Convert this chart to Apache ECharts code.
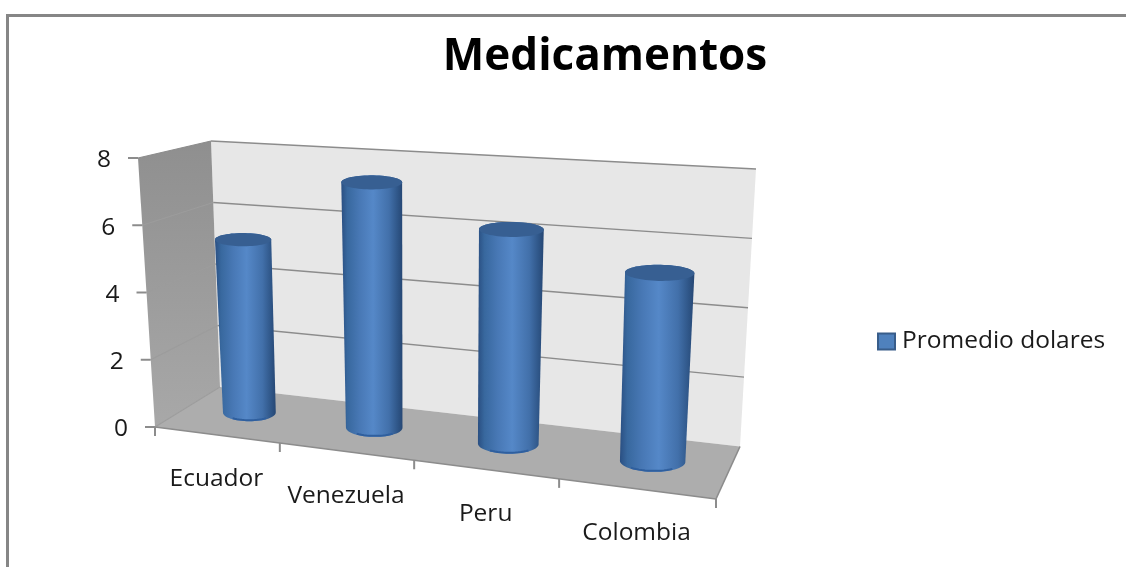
<!DOCTYPE html>
<html>
<head>
<meta charset="utf-8">
<style>html,body{margin:0;padding:0;background:#fff}#chart{width:1126px;height:567px}</style>
<script src="https://cdn.jsdelivr.net/npm/echarts@6/dist/echarts.min.js"></script>
</head>
<body>
<div id="chart"></div>
<script>
// Chart content
const chartTitle = 'Medicamentos';
const seriesName = 'Promedio dolares';
const categories = ['Ecuador', 'Venezuela', 'Peru', 'Colombia'];
const values = [5.3, 7.3, 6.2, 5.3];
const yTicks = [0, 2, 4, 6, 8];

const FONT = '"Open Sans", sans-serif';
const LABEL_SIZE = 24.5;

// Screen geometry of the 3D box: floor corners and the vertical edge vectors at each corner.
const FLOOR = { fl: [155, 427], fr: [716, 499], br: [740, 446.5], bl: [220, 387] };
const RISE = { fl: [-17, -269], fr: [12, -300], br: [16, -277.5], bl: [-9, -246] };

// Unit square (u along categories, d into the depth) to floor quad
function makeFloorMap(q) {
  const dx1 = q.fr[0] - q.br[0], dx2 = q.bl[0] - q.br[0], sx = q.fl[0] - q.fr[0] + q.br[0] - q.bl[0];
  const dy1 = q.fr[1] - q.br[1], dy2 = q.bl[1] - q.br[1], sy = q.fl[1] - q.fr[1] + q.br[1] - q.bl[1];
  const det = dx1 * dy2 - dx2 * dy1;
  const g = (sx * dy2 - dx2 * sy) / det, h = (dx1 * sy - sx * dy1) / det;
  const a = q.fr[0] - q.fl[0] + g * q.fr[0], b = q.bl[0] - q.fl[0] + h * q.bl[0];
  const d = q.fr[1] - q.fl[1] + g * q.fr[1], e = q.bl[1] - q.fl[1] + h * q.bl[1];
  return (u, t) => {
    const w = g * u + h * t + 1;
    return [(a * u + b * t + q.fl[0]) / w, (d * u + e * t + q.fl[1]) / w];
  };
}
const floorMap = makeFloorMap(FLOOR);

// u: 0..1 along the categories, f: 0..1 of the value range, d: 0 front .. 1 back
function project(u, f, d) {
  const p = floorMap(u, d);
  const rise = [0, 1].map(k =>
    (1 - u) * (1 - d) * RISE.fl[k] + u * (1 - d) * RISE.fr[k] + u * d * RISE.br[k] + (1 - u) * d * RISE.bl[k]);
  return [p[0] + rise[0] * f, p[1] + rise[1] * f];
}

const chart = echarts.init(document.getElementById('chart'));

// Turns the flat axis coordinates of the grid into fractions of the box.
function fractions(params, api, cat, val) {
  const sys = params.coordSys;
  const c = api.coord([cat, val]);
  return { u: (c[0] - sys.x) / sys.width, f: (sys.y + sys.height - c[1]) / sys.height };
}

const poly = (points, style) => ({ type: 'polygon', shape: { points }, style });
const seg = (a, b, stroke, lineWidth) => ({
  type: 'line',
  shape: { x1: a[0], y1: a[1], x2: b[0], y2: b[1] },
  style: { stroke, lineWidth }
});

function renderBox(params, api) {
  const sys = params.coordSys;
  const maxTick = yTicks[yTicks.length - 1];
  const kids = [];
  const vf = v => fractions(params, api, 0, v).f;
  const top = vf(maxTick);

  // Back wall, side wall, floor
  kids.push(poly([project(0, 0, 1), project(0, top, 1), project(1, top, 1), project(1, 0, 1)], { fill: '#e7e7e7' }));
  kids.push(poly([project(0, 0, 0), project(0, top, 0), project(0, top, 1), project(0, 0, 1)], {
    fill: new echarts.graphic.LinearGradient(0, 0, 0, 1, [
      { offset: 0, color: '#8f8f8f' }, { offset: 1, color: '#a8a8a8' }
    ])
  }));
  kids.push(poly([project(0, 0, 0), project(1, 0, 0), project(1, 0, 1), project(0, 0, 1)], { fill: '#adadad' }));

  // Gridlines across both walls, with a tick and a label at the front edge
  yTicks.forEach(v => {
    const f = vf(v);
    const front = project(0, f, 0);
    const corner = project(0, f, 1);
    if (v > 0) {
      kids.push(seg(corner, project(1, f, 1), '#8c8c8c', 1.4));
    }
    kids.push(seg(front, corner, v === maxTick ? '#8c8c8c' : '#9c9c9c', 1.2));
    kids.push(seg(front, [front[0] - 10, front[1]], '#8c8c8c', 2));
    kids.push({
      type: 'text',
      style: {
        text: String(v), x: front[0] - 27, y: front[1] + 2.5,
        align: 'right', verticalAlign: 'middle',
        font: LABEL_SIZE + 'px ' + FONT, fill: '#1a1a1a'
      }
    });
  });

  // Floor edges
  kids.push(seg(project(0, 0, 0), project(1, 0, 0), '#8c8c8c', 1.6));
  kids.push(seg(project(1, 0, 0), project(1, 0, 1), '#8c8c8c', 1.6));

  // Category ticks and labels along the front edge
  const band = api.size([1, 0])[0] / sys.width;
  for (let i = 0; i <= categories.length; i++) {
    const p = project(i * band, 0, 0);
    kids.push(seg(p, [p[0], p[1] + 9], '#8c8c8c', 2));
  }
  categories.forEach((name, i) => {
    const p = project(i * band, 0, 0), q = project((i + 1) * band, 0, 0);
    kids.push({
      type: 'text',
      style: {
        text: name, x: (p[0] + q[0]) / 2 - 1, y: (p[1] + q[1]) / 2 + 44,
        align: 'center', verticalAlign: 'middle',
        font: LABEL_SIZE + 'px ' + FONT, fill: '#1a1a1a'
      }
    });
  });
  return { type: 'group', children: kids };
}

const RADIUS_U = 0.0545, LID_WIDEN = 1.03, BASE_DEPTH = 0.21, LID_DEPTH = 0.16, CENTER_DEPTH = 0.52;
const DEPTH_SHEAR = 0.2, RING_TILT = 0.25, RING_STEPS = 64;

function renderCylinder(params, api) {
  const { u, f } = fractions(params, api, api.value(0), api.value(1));
  // Ring of the cylinder at a height, close to a level ellipse on screen.
  // Its apparent depth comes from the floor, so lids stay as open as bases.
  const ring = (level, depth, radius) => {
    const c = project(u, level, CENTER_DEPTH);
    const r = project(u + radius, level, CENTER_DEPTH);
    const l = project(u - radius, level, CENTER_DEPTH);
    const b = project(u, 0, CENTER_DEPTH + depth);
    const n = project(u, 0, CENTER_DEPTH - depth);
    const across = [(r[0] - l[0]) / 2, RING_TILT * (r[1] - l[1]) / 2];
    const deep = [DEPTH_SHEAR * (b[0] - n[0]) / 2, (b[1] - n[1]) / 2];
    const pts = [];
    for (let k = 0; k < RING_STEPS; k++) {
      const t = (k / RING_STEPS) * Math.PI * 2;
      pts.push([
        c[0] + across[0] * Math.cos(t) + deep[0] * Math.sin(t),
        c[1] + across[1] * Math.cos(t) + deep[1] * Math.sin(t)
      ]);
    }
    return pts;
  };
  const base = ring(0, BASE_DEPTH, RADIUS_U), cap = ring(f, LID_DEPTH, RADIUS_U * LID_WIDEN);
  const extreme = (pts, sign) => pts.reduce((best, p, k) => (p[0] * sign > pts[best][0] * sign ? k : best), 0);
  // Walks a ring from index a to index b in the given direction
  const arc = (pts, a, b, step) => {
    const out = [];
    for (let k = a; ; k = (k + step + pts.length) % pts.length) {
      out.push(pts[k]);
      if (k === b) break;
    }
    return out;
  };
  const lower = arc(base, extreme(base, -1), extreme(base, 1), 1);
  const upper = arc(cap, extreme(cap, 1), extreme(cap, -1), 1);

  const body = poly(lower.concat(upper), {
    fill: new echarts.graphic.LinearGradient(0, 0, 1, 0, [
      { offset: 0, color: '#2a4f82' },
      { offset: 0.1, color: '#38689e' },
      { offset: 0.3, color: '#4878b5' },
      { offset: 0.52, color: '#5588c8' },
      { offset: 0.78, color: '#4270aa' },
      { offset: 0.92, color: '#2f5688' },
      { offset: 1, color: '#264774' }
    ])
  });
  // Darker glint just inside the middle of the bottom edge
  const n = lower.length;
  const glint = lower.slice(Math.floor(n * 0.28), Math.ceil(n * 0.72)).map(p => [p[0], p[1] - 1]);
  const rim = { type: 'polyline', shape: { points: glint }, style: { stroke: '#2f5f9e', lineWidth: 2, fill: null } };
  const lid = poly(cap, { fill: '#375f92' });
  return { type: 'group', children: [body, rim, lid] };
}

chart.setOption({
  animation: false,
  backgroundColor: '#ffffff',
  title: {
    text: chartTitle,
    left: 600, top: 30, textAlign: 'center',
    textStyle: { fontFamily: FONT, fontWeight: 'bold', fontSize: 44, color: '#000' }
  },
  legend: {
    data: [{ name: seriesName, icon: 'rect', itemStyle: { color: '#4f81bd', borderColor: '#385d8a', borderWidth: 2 } }],
    left: 872, top: 324,
    itemWidth: 17, itemHeight: 16,
    textStyle: { fontFamily: FONT, fontSize: LABEL_SIZE, color: '#1a1a1a', padding: [0, 0, 0, 2] }
  },
  grid: { left: 155, top: 158, width: 561, height: 269 },
  xAxis: { type: 'category', data: categories, show: false },
  yAxis: { type: 'value', min: 0, max: 8, interval: 2, show: false },
  graphic: [{
    type: 'rect',
    shape: { x: 7.5, y: 15.5, width: 1300, height: 800 },
    style: { fill: null, stroke: '#868686', lineWidth: 3 },
    silent: true
  }],
  series: [
    { type: 'custom', name: 'caja', z: 1, silent: true, data: [[0, 0]], encode: { x: 0, y: 1 }, renderItem: renderBox, clip: false },
    {
      type: 'custom', name: seriesName, z: 2,
      data: values.map((v, i) => [i, v]),
      encode: { x: 0, y: 1 },
      itemStyle: { color: '#4f81bd' },
      renderItem: renderCylinder, clip: false
    }
  ]
});
</script>
</body>
</html>
